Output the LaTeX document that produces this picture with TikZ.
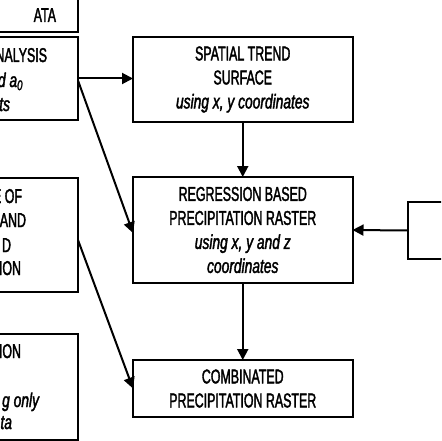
\documentclass[tikz,border=0pt]{standalone}
\usepackage{fontspec}
\setmainfont{Liberation Sans}[FakeStretch=0.62, FakeBold=1.8,
  ItalicFeatures={FakeStretch=0.69, FakeBold=1.8}]
\usetikzlibrary{arrows.meta}
\begin{document}
\begin{tikzpicture}[x=1pt, y=-1pt, line width=2pt, font=\fontsize{20}{24}\selectfont]
  \tikzstyle{stage}=[draw, rectangle, align=center, minimum width=219.5pt, inner sep=0pt, outer sep=0pt]
  \tikzstyle{cutbox}=[draw, rectangle, minimum width=180pt, inner sep=0pt, outer sep=0pt, anchor=north east]
  \tikzstyle{arr}=[-{Triangle[length=11pt,width=11pt]}]
  \useasboundingbox (0,0) rectangle (441,441);
  \clip (0,0) rectangle (441,441);
  % left column, cut by the frame
  \foreach \name/\top/\h in {b1/-60/92, b2/37/83, b3/178/114, b4/334/106}
    \node[cutbox, minimum height=\h pt] (\name) at (78,\top) {};
  \foreach \x/\y/\txt [count=\i] in {57/22/ATA, 48/62/NALYSIS, 24/87/{\itshape d a\textsubscript{0}},
      11/111/{\itshape ts}, 23/203/E OF, 27/227/AND, 12/252/D, 22/275/ION,
      22/358/ION, 40/407/{\itshape g only}, 13/429/{\itshape ta}}
    \node[anchor=base east, inner sep=0pt] (t\i) at (\x,\y) {\txt};

  % middle column
  \node[stage, minimum height=85pt] (trend) at (242.75,79.5)
    {SPATIAL TREND\\SURFACE\\\itshape using x, y coordinates};
  \node[stage, minimum height=106pt] (regr) at (242.75,230)
    {REGRESSION BASED\\PRECIPITATION RASTER\\\itshape using x, y and z\\\itshape coordinates};
  \node[stage, minimum height=57pt] (comb) at (242.75,388.5)
    {COMBINATED\\PRECIPITATION RASTER};

  % right box, cut by the frame
  \node[draw, anchor=north west, minimum width=100pt, minimum height=57pt, inner sep=0pt, outer sep=0pt] (src) at (408,202) {};

  % connectors
  \draw[arr] (b2.east) -- (trend.west |- b2.east);
  \draw[arr] ([yshift=-2pt]b2.east) -- ([yshift=-3pt]regr.west);
  \draw[arr] ([yshift=-5pt]b3.east) -- (comb.west);
  \foreach \from/\to in {trend/regr, regr/comb}
    \draw[arr] (\from) -- (\to);
  \draw[arr] (src.west) -- (regr.east);
\end{tikzpicture}
\end{document}
